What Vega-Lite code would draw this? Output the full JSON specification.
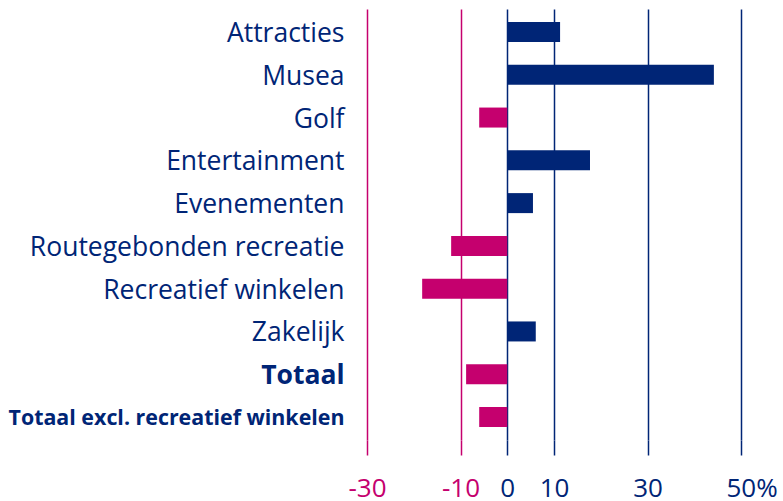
{
  "$schema": "https://vega.github.io/schema/vega-lite/v6.json",
  "width": 374,
  "height": 431,
  "autosize": {"type": "none"},
  "padding": {"left": 367, "top": 9, "right": 42, "bottom": 61},
  "background": "white",
  "config": {"view": {"stroke": null}, "font": "Open Sans"},
  "data": {
    "values": [
      {"categorie": "Attracties", "waarde": 11.3},
      {"categorie": "Musea", "waarde": 44.2},
      {"categorie": "Golf", "waarde": -6.0},
      {"categorie": "Entertainment", "waarde": 17.7},
      {"categorie": "Evenementen", "waarde": 5.5},
      {"categorie": "Routegebonden recreatie", "waarde": -12.0},
      {"categorie": "Recreatief winkelen", "waarde": -18.2},
      {"categorie": "Zakelijk", "waarde": 6.1},
      {"categorie": "Totaal", "waarde": -8.8},
      {"categorie": "Totaal excl. recreatief winkelen", "waarde": -6.0}
    ]
  },
  "mark": {"type": "bar", "size": 20},
  "encoding": {
    "y": {
      "field": "categorie",
      "type": "nominal",
      "sort": null,
      "scale": {"paddingInner": 0.533, "paddingOuter": 0.304},
      "axis": {
        "title": null,
        "domain": false,
        "ticks": false,
        "grid": false,
        "labelPadding": 23,
        "labelOffset": 2,
        "labelFont": "Open Sans",
        "labelColor": "#002576",
        "labelFontSize": {"condition": {"test": "datum.value === 'Totaal excl. recreatief winkelen'", "value": 21.4}, "value": 26.5},
        "labelFontWeight": {"condition": {"test": "indexof(datum.value, 'Totaal') === 0", "value": "bold"}, "value": "normal"},
        "labelLimit": 400
      }
    },
    "x": {
      "field": "waarde",
      "type": "quantitative",
      "scale": {"domain": [-30, 50], "nice": false, "zero": false},
      "axis": {
        "title": null,
        "domain": false,
        "values": [-30, -10, 0, 10, 30, 50],
        "grid": true,
        "gridWidth": 1.5,
        "gridColor": {"condition": {"test": "datum.value < 0", "value": "#c5006e"}, "value": "#002576"},
        "ticks": true,
        "tickSize": 15,
        "tickWidth": 1.5,
        "tickColor": {"condition": {"test": "datum.value < 0", "value": "#c5006e"}, "value": "#002576"},
        "labelColor": {"condition": {"test": "datum.value < 0", "value": "#c5006e"}, "value": "#002576"},
        "labelFont": "Open Sans",
        "labelFontSize": 26,
        "labelPadding": 20,
        "labelExpr": "datum.value == 50 ? '50%' : '' + datum.value",
        "labelAlign": {"condition": {"test": "datum.value == 50", "value": "left"}, "value": "center"},
        "labelOffset": {"condition": {"test": "datum.value == 50", "value": -15}, "value": 0},
        "labelFlush": false,
        "labelOverlap": false
      }
    },
    "color": {
      "condition": {"test": "datum.waarde < 0", "value": "#c5006e"},
      "value": "#002576"
    }
  }
}
